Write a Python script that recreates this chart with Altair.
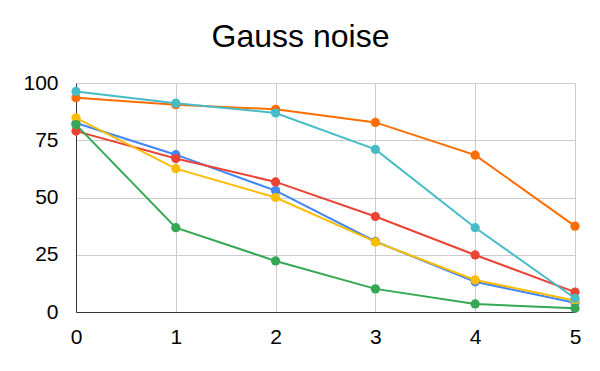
import altair as alt
import pandas as pd

x_vals = [0, 1, 2, 3, 4, 5]
blue = [82.5, 68.7, 53, 30.8, 13.2, 4]
red = [79, 67, 56.8, 41.7, 24.9, 8.7]
yellow = [84.8, 62.6, 50, 30.6, 14, 5]
green = [81.8, 36.8, 22.3, 10.1, 3.5, 1.6]
orange = [93.6, 90.5, 88.5, 82.8, 68.5, 37.5]
teal = [96.3, 91.2, 86.9, 71, 36.8, 6]

series_names = ["blue", "red", "yellow", "green", "orange", "teal"]
series_vals = [blue, red, yellow, green, orange, teal]
colors = ["#4285F4", "#EA4335", "#FBBC04", "#34A853", "#FF6D01", "#46BDC6"]

rows = []
for name, vals in zip(series_names, series_vals):
    for xv, yv in zip(x_vals, vals):
        rows.append({"x": xv, "y": yv, "s": name})
df = pd.DataFrame(rows)

xs = alt.X("x:Q", scale=alt.Scale(domain=[0, 5], nice=False),
           axis=alt.Axis(values=x_vals, format="d", title=None, grid=True,
                         ticks=False, labelPadding=14, domainColor="#333333",
                         gridColor="#cccccc", labelFontSize=21, labelColor="#000000",
                         labelFont="Liberation Sans", labelFlush=False))
ys = alt.Y("y:Q", scale=alt.Scale(domain=[0, 100], nice=False),
           axis=alt.Axis(values=[0, 25, 50, 75, 100], title=None, grid=True,
                         ticks=False, labelPadding=18, domainColor="#333333",
                         gridColor="#cccccc", labelFontSize=21, labelColor="#000000",
                         labelFont="Liberation Sans", labelFlush=False))
col = alt.Color("s:N", scale=alt.Scale(domain=series_names, range=colors), legend=None)

base = alt.Chart(df)
lines = base.mark_line(strokeWidth=2).encode(x=xs, y=ys, color=col, detail="s:N")
points = base.mark_circle(size=85, opacity=1).encode(x=xs, y=ys, color=col)

chart = alt.layer(lines, points).properties(
    width=499, height=229,
    title=alt.TitleParams("Gauss noise", fontSize=32, font="Liberation Sans",
                          fontWeight="normal", color="#000000", offset=18, dx=-25),
    autosize=alt.AutoSizeParams(type="none"),
    padding={"left": 68, "top": 75, "right": 17, "bottom": 51},
).configure_view(stroke=None)

chart.save("out.html", embed_options={"renderer": "svg", "actions": False})
